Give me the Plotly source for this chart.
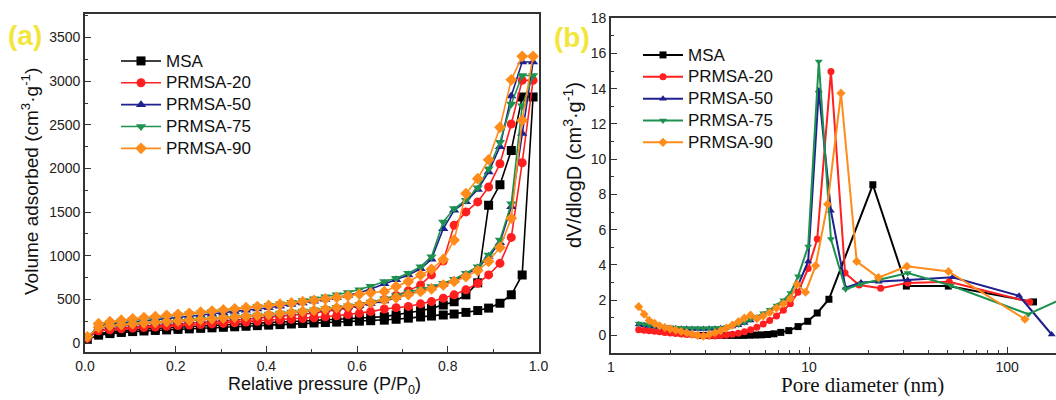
import plotly.graph_objects as go

# ---------------- Panel (a): N2 adsorption-desorption isotherms ----------------
P = [0.005, 0.03, 0.055, 0.08, 0.105, 0.13, 0.155, 0.18, 0.205, 0.23, 0.255, 0.28, 0.305, 0.33,
     0.355, 0.38, 0.405, 0.43, 0.455, 0.48, 0.505, 0.53, 0.555, 0.58, 0.605, 0.63, 0.66, 0.686,
     0.713, 0.74, 0.764, 0.79, 0.814, 0.84, 0.866, 0.89, 0.915, 0.94, 0.964, 0.988]
P_des = P[-2:0:-1]   # desorption branch goes back down from 0.964 to 0.03

MSA_ads = [40, 90, 108, 121, 131, 138, 144, 150, 156, 162, 168, 174, 180, 186, 192, 199, 205, 211, 218, 224,
           230, 235, 240, 245, 250, 256, 262, 272, 285, 298, 309, 321, 332, 351, 372, 400, 456, 552, 780, 2820]
MSA_des = [2820, 2206, 1814, 1578, 690, 552, 473, 435, 397, 370, 347, 321, 302, 292, 284, 277, 270, 264, 258,
           252, 246, 240, 234, 228, 222, 216, 210, 204, 197, 190, 183, 176, 169, 161, 152, 142, 128, 105]

PR20_ads = [55, 140, 152, 162, 170, 177, 184, 192, 200, 206, 212, 219, 225, 232, 240, 248, 256, 264, 272, 281,
            290, 301, 313, 326, 340, 360, 390, 405, 419, 449, 475, 514, 552, 609, 685, 780, 913, 1210, 2065, 3010]
PR20_des = [3010, 2510, 2054, 1788, 1617, 1502, 1350, 940, 780, 666, 600, 545, 500, 460, 425, 400, 380, 362, 345,
            330, 317, 305, 293, 282, 272, 262, 252, 243, 234, 226, 218, 210, 202, 194, 185, 175, 165, 150]

PR50_ads = [65, 175, 192, 205, 215, 223, 230, 238, 246, 254, 262, 271, 280, 290, 300, 310, 320, 332, 344, 357,
            370, 384, 398, 413, 430, 452, 480, 520, 565, 600, 630, 670, 715, 785, 860, 990, 1150, 1560, 2400, 3220]
PR50_des = [3220, 2830, 2250, 1960, 1760, 1620, 1520, 1310, 960, 850, 780, 725, 680, 620, 575, 545, 520, 498, 478,
            458, 440, 422, 405, 390, 375, 360, 346, 332, 318, 305, 292, 280, 268, 256, 244, 230, 215, 195]

PR75_ads = [70, 185, 202, 215, 225, 233, 241, 249, 257, 265, 273, 282, 291, 300, 310, 320, 331, 343, 355, 368,
            381, 395, 410, 426, 445, 470, 505, 545, 585, 615, 647, 685, 730, 800, 875, 1008, 1179, 1597, 2720, 3065]
PR75_des = [3065, 2738, 2300, 1996, 1780, 1636, 1540, 1388, 989, 875, 799, 742, 704, 650, 610, 578, 553, 530, 508,
            488, 468, 450, 433, 417, 402, 388, 374, 360, 347, 334, 321, 308, 295, 282, 268, 253, 236, 215]

PR90_ads = [70, 180, 198, 210, 220, 228, 236, 244, 252, 260, 268, 277, 286, 295, 305, 315, 326, 337, 349, 362,
            375, 389, 404, 420, 440, 465, 494, 520, 555, 590, 620, 665, 705, 760, 830, 935, 1095, 1430, 2550, 3285]
PR90_des = [3285, 3016, 2472, 2100, 1883, 1712, 1180, 958, 844, 780, 704, 647, 590, 575, 560, 540, 522, 505, 489,
            474, 459, 445, 431, 418, 405, 392, 379, 366, 353, 341, 329, 317, 304, 291, 277, 262, 245, 222]

# ---------------- Panel (b): pore size distributions ----------------
MSA_D = [2.9, 3.1, 3.32, 3.55, 3.8, 4.07, 4.36, 4.67, 5.0, 5.36, 5.75, 6.17, 6.65, 7.2, 7.9, 8.8, 9.85,
         11.0, 12.6, 21.0, 31.0, 50.5, 136]
MSA_V = [0, 0, 0, 0, 0, 0, 0, 0, 0.01, 0.02, 0.03, 0.05, 0.09, 0.17, 0.27, 0.5, 0.8,
         1.27, 2.05, 8.55, 2.8, 2.8, 1.9]

PR20_D = [1.38, 1.47, 1.56, 1.66, 1.76, 1.87, 1.99, 2.12, 2.26, 2.41, 2.57, 2.74, 2.93, 3.13, 3.35, 3.58,
          3.83, 4.1, 4.4, 4.72, 5.07, 5.45, 5.87, 6.33, 6.85, 7.42, 8.05, 8.8, 9.9, 11.0, 12.9, 15.2,
          17.9, 23.0, 31.5, 51.0, 130]
PR20_V = [0.32, 0.29, 0.26, 0.23, 0.2, 0.17, 0.14, 0.11, 0.08, 0.05, 0.03, 0.01, -0.02, -0.03, -0.03, -0.01,
          0.02, 0.06, 0.12, 0.2, 0.32, 0.46, 0.64, 0.85, 1.1, 1.42, 1.8, 2.45, 3.8, 5.47, 14.98, 3.54,
          2.86, 2.68, 2.98, 3.05, 1.9]

PR50_D = [1.38, 1.47, 1.56, 1.66, 1.76, 1.87, 1.99, 2.12, 2.26, 2.41, 2.57, 2.74, 2.93, 3.13, 3.35, 3.58,
          3.83, 4.1, 4.4, 4.72, 5.07, 5.45, 5.87, 6.33, 6.85, 7.42, 8.05, 8.8, 9.9, 11.2, 12.9, 15.3,
          18.3, 22.5, 31.5, 53, 115, 168]
PR50_V = [0.62, 0.57, 0.53, 0.5, 0.47, 0.44, 0.42, 0.4, 0.38, 0.37, 0.36, 0.36, 0.36, 0.37, 0.38, 0.4,
          0.44, 0.5, 0.58, 0.7, 0.85, 1.0, 1.18, 1.38, 1.62, 1.9, 2.25, 2.85, 4.2, 13.9, 7.07, 2.7,
          3.0, 3.05, 3.15, 3.3, 2.25, 0.05]

PR75_D = [1.38, 1.47, 1.56, 1.66, 1.76, 1.87, 1.99, 2.12, 2.26, 2.41, 2.57, 2.74, 2.93, 3.13, 3.35, 3.58,
          3.83, 4.1, 4.4, 4.72, 5.07, 5.45, 5.87, 6.33, 6.85, 7.42, 8.05, 8.8, 9.9, 11.2, 12.9, 15.3,
          18.3, 22.5, 31.5, 52, 128, 230]
PR75_V = [0.68, 0.63, 0.58, 0.54, 0.51, 0.48, 0.46, 0.44, 0.42, 0.41, 0.4, 0.4, 0.4, 0.41, 0.42, 0.44,
          0.48, 0.54, 0.62, 0.74, 0.9, 1.06, 1.25, 1.45, 1.7, 2.0, 2.4, 3.35, 5.05, 15.55, 5.47, 2.62,
          2.92, 3.15, 3.54, 2.83, 1.2, 2.5]

PR90_D = [1.38, 1.47, 1.56, 1.66, 1.76, 1.87, 1.99, 2.12, 2.26, 2.41, 2.57, 2.74, 2.93, 3.13, 3.35, 3.58,
          3.83, 4.1, 4.4, 4.72, 5.07, 5.45, 5.87, 6.33, 6.85, 7.42, 8.05, 8.7, 9.6, 10.8, 12.4, 14.5,
          17.4, 22.4, 31.2, 50.6, 123]
PR90_V = [1.63, 1.2, 0.85, 0.68, 0.55, 0.45, 0.37, 0.3, 0.22, 0.15, 0.07, 0.0, -0.05, 0.05, 0.15, 0.27,
          0.42, 0.58, 0.78, 0.98, 1.15, 0.95, 1.1, 1.3, 1.55, 1.8, 2.1, 2.9, 2.45, 3.96, 7.44, 13.75,
          4.2, 3.28, 3.92, 3.63, 0.92]

names = ["MSA", "PRMSA-20", "PRMSA-50", "PRMSA-75", "PRMSA-90"]
colors = ["#000000", "#FF1F1F", "#1F1F8F", "#1E9150", "#FF8C1A"]
symbols = ["square", "circle", "triangle-up", "triangle-down", "diamond"]

iso_ads = [MSA_ads, PR20_ads, PR50_ads, PR75_ads, PR90_ads]
iso_des = [MSA_des, PR20_des, PR50_des, PR75_des, PR90_des]
psd_D = [MSA_D, PR20_D, PR50_D, PR75_D, PR90_D]
psd_V = [MSA_V, PR20_V, PR50_V, PR75_V, PR90_V]

SANS = "Liberation Sans, Arial, sans-serif"
SERIF = "Liberation Serif, Times New Roman, serif"
W, H = 1056, 400


def legend_label(name):
    # larger glyphs than the legend's nominal size keep the rows tight, as in the original
    return "<span style='font-size:17px'>" + name + "</span>"


fig = go.Figure()
for i in range(5):
    fig.add_trace(go.Scatter(
        x=P + P_des, y=iso_ads[i] + iso_des[i], name=legend_label(names[i]), mode="lines+markers",
        line=dict(color=colors[i], width=1.6),
        marker=dict(symbol=symbols[i], size=9, color=colors[i], line=dict(width=0)),
        xaxis="x", yaxis="y", legend="legend"))
for i in range(5):
    fig.add_trace(go.Scatter(
        x=psd_D[i], y=psd_V[i], name=legend_label(names[i]), mode="lines+markers",
        line=dict(color=colors[i], width=2),
        marker=dict(symbol=symbols[i], size=7, color=colors[i], line=dict(width=0)),
        xaxis="x2", yaxis="y2", legend="legend2"))

axcol = "#333333"
common = dict(showline=True, linecolor=axcol, linewidth=1.8, ticks="inside", ticklen=6,
              tickwidth=1.2, tickcolor=axcol, showgrid=False, zeroline=False, automargin=False,
              tickfont=dict(family=SANS, size=14, color="#222222"))

fig.update_layout(
    width=W, height=H, margin=dict(l=0, r=0, t=0, b=0, autoexpand=False),
    paper_bgcolor="white", plot_bgcolor="white", showlegend=True,
    xaxis=dict(domain=[85 / W, 538.5 / W], range=[0, 1.0], dtick=0.2, tickformat=".1f", mirror=True,
               minor=dict(dtick=0.1, ticks="inside", ticklen=3, tickcolor=axcol), anchor="y", **common),
    yaxis=dict(domain=[1 - 352 / H, 1 - 14 / H], range=[-103, 3770], dtick=500, mirror=True,
               minor=dict(dtick=250, ticks="inside", ticklen=3, tickcolor=axcol), anchor="x", **common),
    xaxis2=dict(domain=[611 / W, 1.0], type="log", range=[0, 2.247], mirror=True,
                tickvals=[1, 10, 100], ticktext=["1", "10", "100"],
                minor=dict(tickvals=[m * 10 ** e for e in (0, 1, 2) for m in range(2, 10)],
                           ticks="inside", ticklen=3, tickcolor=axcol), anchor="y2", **common),
    yaxis2=dict(domain=[1 - 353 / H, 1 - 18.3 / H], range=[-1, 18], dtick=2, tick0=0, mirror=False,
                minor=dict(dtick=1, ticks="inside", ticklen=3, tickcolor=axcol), anchor="x2", **common),
    legend=dict(x=116 / W, y=1 - 45 / H, xanchor="left", yanchor="top", bgcolor="rgba(0,0,0,0)",
                font=dict(family=SANS, size=14.5, color="#111111"), itemwidth=40, tracegroupgap=0),
    legend2=dict(x=638 / W, y=1 - 39 / H, xanchor="left", yanchor="top", bgcolor="rgba(0,0,0,0)",
                 font=dict(family=SANS, size=14.5, color="#111111"), itemwidth=40, tracegroupgap=0),
)

ann = [
    dict(text="Volume adsorbed (cm<sup>3</sup>·g<sup>-1</sup>)", x=30 / W, y=1 - 182 / H, textangle=-90,
         font=dict(family=SANS, size=19, color="#111111")),
    dict(text="Relative pressure (P/P<sub>0</sub>)", x=324 / W, y=1 - 385 / H,
         font=dict(family=SANS, size=18, color="#111111")),
    dict(text="dV/dlogD (cm<sup>3</sup>·g<sup>-1</sup>)", x=572 / W, y=1 - 165 / H, textangle=-90,
         font=dict(family=SANS, size=20, color="#111111")),
    dict(text="Pore diameter (nm)", x=862 / W, y=1 - 385 / H,
         font=dict(family=SERIF, size=21, color="#111111")),
    dict(text="<b>(a)</b>", x=25 / W, y=1 - 35 / H, font=dict(family=SANS, size=28, color="#F3E53A")),
    dict(text="<b>(b)</b>", x=572 / W, y=1 - 37 / H, font=dict(family=SANS, size=28, color="#F3E53A")),
]
for a in ann:
    fig.add_annotation(xref="paper", yref="paper", showarrow=False, xanchor="center", yanchor="middle", **a)

fig.write_html("out.html", config={"displayModeBar": False},
               post_script="document.body.style.margin='0px'; document.body.style.overflow='hidden';")
